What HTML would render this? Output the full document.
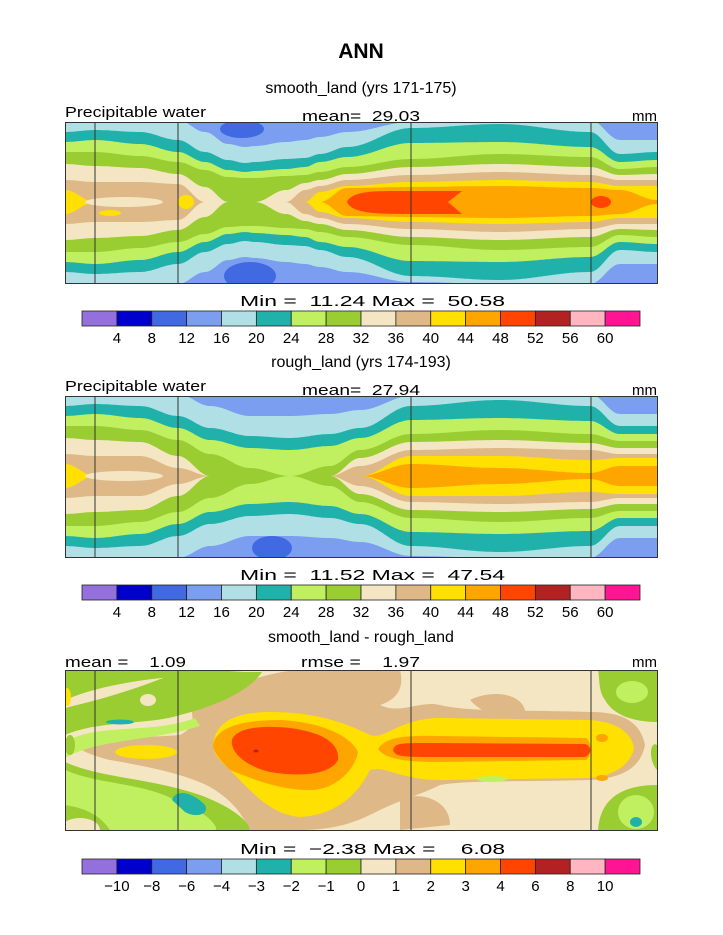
<!DOCTYPE html>
<html><head><meta charset="utf-8"><style>
body{margin:0;background:#fff;width:723px;height:935px;overflow:hidden}
svg{display:block}
text{font-family:"Liberation Sans",sans-serif;fill:#000}
</style></head><body>
<svg id="s" width="723" height="935" xmlns="http://www.w3.org/2000/svg">
<text x="361" y="58" font-size="21" font-weight="bold" text-anchor="middle">ANN</text>
<text x="361" y="93" font-size="16" text-anchor="middle">smooth_land (yrs 171-175)</text>
<text x="361" y="367" font-size="16" text-anchor="middle">rough_land (yrs 174-193)</text>
<text x="361" y="642" font-size="16" text-anchor="middle">smooth_land - rough_land</text>
<g font-size="15" fill="#222" lengthAdjust="spacingAndGlyphs">
<text x="65" y="117" textLength="141" lengthAdjust="spacingAndGlyphs">Precipitable water</text><text x="302" y="121" textLength="118" lengthAdjust="spacingAndGlyphs" xml:space="preserve">mean=  29.03</text><text x="657" y="121" text-anchor="end">mm</text>
<text x="65" y="391" textLength="141" lengthAdjust="spacingAndGlyphs">Precipitable water</text><text x="302" y="395" textLength="118" lengthAdjust="spacingAndGlyphs" xml:space="preserve">mean=  27.94</text><text x="657" y="395" text-anchor="end">mm</text>
<text x="65" y="667" textLength="121" lengthAdjust="spacingAndGlyphs" xml:space="preserve">mean =    1.09</text><text x="301" y="667" textLength="119" lengthAdjust="spacingAndGlyphs" xml:space="preserve">rmse =    1.97</text><text x="657" y="667" text-anchor="end">mm</text>
<text x="240" y="306" textLength="265" lengthAdjust="spacingAndGlyphs" xml:space="preserve">Min =  11.24 Max =  50.58</text>
<text x="240" y="580" textLength="265" lengthAdjust="spacingAndGlyphs" xml:space="preserve">Min =  11.52 Max =  47.54</text>
<text x="240" y="854" textLength="265" lengthAdjust="spacingAndGlyphs" xml:space="preserve">Min =  −2.38 Max =    6.08</text>
</g>
<g id="g"></g>
</svg>
<script>
const C=["#9370db","#0000cd","#4169e1","#7b9ef0","#b0e0e6","#20b2aa","#c0f060","#9acd32","#f5e6c3","#deb887","#ffe000","#ffa500","#ff4500","#b22222","#ffb6c1","#ff1493"];
const g=document.getElementById('g');let h='';
function lens(xs,hs,cy,col){let top=[],bot=[];
 for(let x=65;x<=657;x+=2){let i=0;while(i<xs.length-2&&x>xs[i+1])i++;let t=(x-xs[i])/(xs[i+1]-xs[i]);t=Math.max(0,Math.min(1,t));t=(1-Math.cos(t*Math.PI))/2;let v=hs[i]+(hs[i+1]-hs[i])*t;
 top.push(x+','+(cy-v).toFixed(1));bot.unshift(x+','+(cy+v).toFixed(1));}
 h+=`<polygon points="${top.join(' ')} ${bot.join(' ')}" fill="${col}"/>`;}
function el(cx,cy,rx,ry,c){h+=`<ellipse cx="${cx}" cy="${cy}" rx="${rx}" ry="${ry}" fill="${c}"/>`;}
function clipStart(y0){h+=`<svg x="65" y="${y0}" width="592" height="161" viewBox="65 ${y0} 592 161" overflow="hidden">`;}
// panel 1
const X1=[65,95,140,178,205,228,245,255,286,305,320,347,411,500,590,620,657];
clipStart(122);
h+=`<rect x="65" y="122" width="592" height="161" fill="${C[3]}"/>`;
el(242,129,22,9,C[2]);el(250,276,26,14,C[2]);
[[C[4],[82,82,82,82,70,58,55,56,60,62,65,70,80,82,82,62,62]],
 [C[5],[70,72,70,62,50,42,39,40,43,44,48,55,74,78,70,48,50]],
 [C[6],[60,62,58,50,40,32,30,31,33,35,40,45,59,60,55,40,42]],
 [C[7],[50,50,46,40,32,25,24,24,26,27,30,35,43,48,45,33,35]],
 [C[8],[38,36,34,28,15,0,0,0,12,19,22,28,35,38,35,27,28]],
 [C[9],[22,20,20,18,0,0,0,0,0,12,16,22,27,30,27,22,22]],
 [C[10],[12,0,0,0,0,0,0,0,0,0,10,16,20,22,20,16,16]],
 [C[11],[0,0,0,0,0,0,0,0,0,0,0,14,15,16,14,12,2]]].forEach(a=>lens(X1,a[1],202,a[0]));
el(66,202,4,12,C[10]);el(124,202,39,5,C[8]);el(110,213,11,3,C[10]);el(186,202,8,7,C[10]);
h+=`<path d="M347,202 C352,190 380,191 411,191 L462,191 L448,202 L462,214 L411,214 C380,214 352,214 347,202Z" fill="${C[12]}"/>`;
el(601,202,10,6,C[12]);el(630,128,22,8,C[3]);el(636,278,20,8,C[3]);
h+='</svg>';
// panel 2
const X2=[65,95,140,178,210,250,290,330,360,411,500,590,620,657];
clipStart(396);
h+=`<rect x="65" y="396" width="592" height="161" fill="${C[3]}"/>`;
el(272,548,20,12,C[2]);
[[C[4],[82,82,82,82,70,60,60,62,66,80,82,82,62,62]],
 [C[5],[70,72,70,60,48,40,38,42,48,70,76,70,50,50]],
 [C[6],[60,62,58,48,36,28,26,30,38,56,58,55,42,42]],
 [C[7],[50,50,46,36,22,8,0,10,26,42,46,42,35,35]],
 [C[8],[38,36,34,20,0,0,0,0,18,34,36,33,28,28]],
 [C[9],[22,20,20,8,0,0,0,0,10,26,28,26,22,22]],
 [C[10],[12,0,0,0,0,0,0,0,0,20,20,16,18,18]],
 [C[11],[0,0,0,0,0,0,0,0,0,12,8,3,10,10]]].forEach(a=>lens(X2,a[1],476,a[0]));
el(66,476,4,12,C[10]);el(124,476,39,5,C[8]);el(105,488,8,4,C[9]);el(640,404,22,7,C[3]);el(630,550,22,7,C[3]);
h+='</svg>';
// panel 3
h+=`<svg x="65" y="670" width="592" height="160" viewBox="65 670 592 160" overflow="hidden">`;
h+=`<rect x="65" y="670" width="592" height="160" fill="${C[8]}"/>`;
// burlywood regions
h+=`<path d="M65,690 C75,680 80,672 85,670 L65,670Z" fill="${C[9]}"/>`;
h+=`<path d="M190,700 C230,690 260,672 300,670 L400,670 C405,690 395,700 380,705 C400,715 420,700 440,705 C470,712 520,710 590,712 C620,712 640,720 645,745 C640,770 620,778 590,780 C520,782 470,780 440,785 C420,795 400,800 380,810 C360,820 340,830 300,830 L250,830 C240,810 230,800 215,790 C200,780 170,770 110,760 C90,755 80,750 75,745 C90,738 140,738 180,735 C200,725 190,712 190,700Z" fill="${C[9]}"/>`;
h+=`<path d="M470,700 C490,690 520,692 525,710 C520,720 490,722 470,700Z" fill="${C[9]}"/>`;
h+=`<path d="M400,800 C420,790 450,800 450,825 L400,830Z" fill="${C[9]}"/>`;
// greens left
h+=`<path d="M65,700 C100,685 140,680 180,676 C220,672 250,671 260,670 L65,670Z" fill="${C[7]}"/>`;
h+=`<path d="M65,735 C100,720 150,725 180,715 C220,705 250,690 262,672 L178,672 C140,688 100,700 65,708Z" fill="${C[7]}"/>`;
h+=`<path d="M65,742 C100,722 150,735 195,718 L200,726 C150,742 100,738 65,758Z" fill="${C[6]}"/>`;
h+=`<path d="M65,762 C100,778 150,778 200,795 C240,810 250,825 250,830 L65,830Z" fill="${C[7]}"/>`;
h+=`<path d="M65,770 C100,785 140,782 175,800 C210,812 220,830 215,830 L110,830 C100,815 85,808 65,805Z" fill="${C[6]}"/>`;
el(80,830,20,12,C[8]);el(70,745,5,10,C[7]);
h+=`<path d="M172,800 C175,790 190,790 205,805 C210,815 195,818 185,812Z" fill="${C[5]}"/>`;
el(120,722,14,2.5,C[5]);el(67,697,4,9,C[10]);el(148,700,8,6,C[8]);
// central gold / orange / red
h+=`<path d="M213,745 C215,725 230,712 270,712 C310,712 340,720 370,735 C385,740 400,718 440,718 L590,720 C620,722 632,735 634,748 C632,760 620,775 590,778 L440,780 C400,780 385,765 370,770 C360,790 340,815 300,817 C270,815 250,790 230,770 C220,760 213,755 213,745Z" fill="${C[10]}"/>`;
el(146,752,31,7,C[10]);
h+=`<path d="M213,745 C216,728 240,720 280,720 C320,722 350,735 358,752 C355,770 335,790 310,790 C280,790 255,780 230,770 C220,760 213,752 213,745Z" fill="${C[11]}"/>`;
h+=`<path d="M378,749 C385,738 400,735 440,736 L586,738 C592,742 592,756 586,760 L440,762 C400,762 385,758 378,749Z" fill="${C[11]}"/>`;
h+=`<path d="M232,740 C236,728 260,725 290,728 C320,732 340,742 338,760 C330,775 300,777 270,772 C245,766 230,752 232,740Z" fill="${C[12]}"/>`;
h+=`<path d="M393,750 C395,743 400,743 430,743 L585,744 C592,746 592,754 585,757 L430,757 C400,757 395,756 393,750Z" fill="${C[12]}"/>`;
el(256,751,2.5,1.5,C[13]);el(602,738,6,4,C[11]);el(602,778,6,3,C[11]);
el(492,779,15,3,C[6]);
// right greens
h+=`<path d="M598,670 L657,670 L657,722 C640,722 615,718 605,700 C598,690 600,680 598,670Z" fill="${C[7]}"/>`;el(632,692,16,11,C[6]);
h+=`<path d="M657,745 C650,740 648,760 657,770Z" fill="${C[7]}"/>`;
h+=`<path d="M598,830 C600,800 620,785 657,785 L657,830Z" fill="${C[7]}"/>`;el(636,812,18,17,C[6]);el(636,822,6,5,C[5]);
h+='</svg>';
// frames and lines
[[122,161],[396,161],[670,160]].forEach(([y,hh])=>{h+=`<rect x="65.5" y="${y+.5}" width="592" height="${hh}" fill="none" stroke="#333"/>`;[95,178,411,591].forEach(x=>h+=`<line x1="${x}" y1="${y}" x2="${x}" y2="${y+hh}" stroke="#333" stroke-width="1"/>`);});
// colorbars
const labs=[[4,8,12,16,20,24,28,32,36,40,44,48,52,56,60],[4,8,12,16,20,24,28,32,36,40,44,48,52,56,60],["−10","−8","−6","−4","−3","−2","−1","0","1","2","3","4","6","8","10"]];
[311,585,859].forEach((y,k)=>{const w=(640-82)/16;C.forEach((c,i)=>h+=`<rect x="${82+i*w}" y="${y}" width="${w}" height="15" fill="${c}" stroke="#222" stroke-width="0.8"/>`);
 labs[k].forEach((l,i)=>h+=`<text x="${82+(i+1)*w}" y="${y+32}" font-size="15" text-anchor="middle" fill="#222">${l}</text>`);});
g.innerHTML=h;
</script>
</body></html>
